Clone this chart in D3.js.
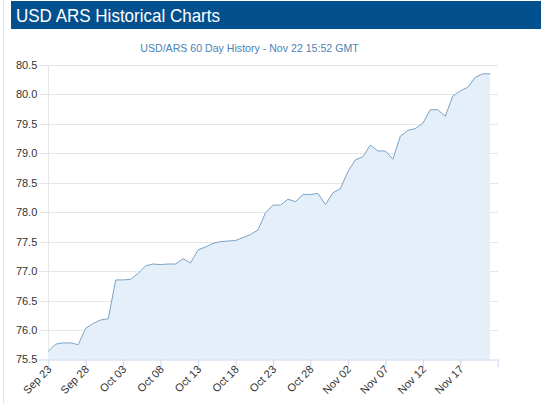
<!DOCTYPE html>
<html><head><meta charset="utf-8">
<script src="https://cdn.jsdelivr.net/npm/d3@7/dist/d3.min.js"></script>
<style>
html,body{margin:0;padding:0;background:#fff;}
svg{display:block;font-family:"Liberation Sans",Arial,sans-serif;}
</style></head><body>
<svg id="c" width="547" height="404"></svg>
<script>
const title = "USD ARS Historical Charts";
const subtitle = "USD/ARS 60 Day History - Nov 22 15:52 GMT";
const startDate = "2018-09-23";
const endDate = "2018-11-22";
const rates = [75.64,75.76,75.78,75.78,75.75,76.03,76.11,76.17,76.19,76.85,
  76.85,76.86,76.96,77.09,77.12,77.11,77.12,77.12,77.21,77.14,
  77.36,77.41,77.47,77.50,77.51,77.52,77.57,77.62,77.70,77.99,
  78.12,78.12,78.22,78.18,78.30,78.30,78.32,78.13,78.33,78.40,
  78.69,78.89,78.94,79.14,79.04,79.04,78.90,79.29,79.39,79.42,
  79.51,79.74,79.74,79.63,79.97,80.06,80.12,80.29,80.35,80.35];
const yTicks = [75.5,76.0,76.5,77.0,77.5,78.0,78.5,79.0,79.5,80.0,80.5];

const parse = d3.utcParse("%Y-%m-%d");
const t0 = parse(startDate), t1 = parse(endDate);
const data = rates.map((v,i)=>({date:d3.utcDay.offset(t0,i), v}));
const xTicks = d3.utcDay.range(t0, d3.utcDay.offset(t1,1), 5);

const svg = d3.select("#c");
// page border
svg.append("line").attr("x1",3.5).attr("x2",3.5).attr("y1",0).attr("y2",404).attr("stroke","#e3e3e3");
// header
svg.append("rect").attr("x",11).attr("y",1).attr("width",530).attr("height",28).attr("fill","#03508f");
svg.append("text").attr("x",16).attr("y",21.5).attr("fill","#fff").attr("font-size",18.5)
  .attr("textLength",204).attr("lengthAdjust","spacingAndGlyphs").text(title);
svg.append("text").attr("x",249.5).attr("y",52).attr("text-anchor","middle").attr("fill","#4a84b5").attr("font-size",10.6).text(subtitle);

const x = d3.scaleUtc().domain([t0,t1]).range([48.3,497.7]);
const y = d3.scaleLinear().domain([75.5,80.5]).range([359.4,65]);

// grid
const yAxis = d3.axisLeft(y).tickValues(yTicks).tickFormat(d3.format(".1f")).tickSize(0).tickPadding(11);
const gy = svg.append("g").attr("transform","translate(48.3,0)").call(yAxis);
gy.select(".domain").remove();
gy.selectAll("text").attr("fill","#333").attr("font-size",11).attr("font-family","Liberation Sans, Arial, sans-serif");
svg.append("g").selectAll("line").data(yTicks.filter(d=>d>75.5)).join("line")
  .attr("x1",39).attr("x2",498).attr("y1",d=>Math.round(y(d))+0.5).attr("y2",d=>Math.round(y(d))+0.5)
  .attr("stroke","#e6e6e6");
svg.append("line").attr("x1",48.5).attr("x2",48.5).attr("y1",65).attr("y2",360).attr("stroke","#e6e6e6");

// area & line
const area = d3.area().x(d=>x(d.date)).y0(y(75.5)).y1(d=>y(d.v));
const line = d3.line().x(d=>x(d.date)).y(d=>y(d.v));
svg.append("path").datum(data).attr("d",area).attr("fill","#e4eff9");
svg.append("path").datum(data).attr("d",line).attr("fill","none").attr("stroke","#7ba3c6").attr("stroke-width",1);

// x axis
const xAxis = d3.axisBottom(x).tickValues(xTicks).tickSize(8).tickFormat("");
const gx = svg.append("g").attr("transform","translate(0,359.5)").call(xAxis);
gx.select(".domain").attr("stroke","#ccd6eb").attr("d","M39,0.5H498");
gx.selectAll(".tick line").attr("stroke","#ccd6eb");
const fmt = d3.utcFormat("%b %d");
svg.append("g").selectAll("text").data(xTicks.slice(0,-1)).join("text")
  .attr("transform",d=>`translate(${x(d)+4},370) rotate(-45)`)
  .attr("text-anchor","end").attr("fill","#333").attr("font-size",11)
  .text(d=>fmt(d));
</script></body></html>
